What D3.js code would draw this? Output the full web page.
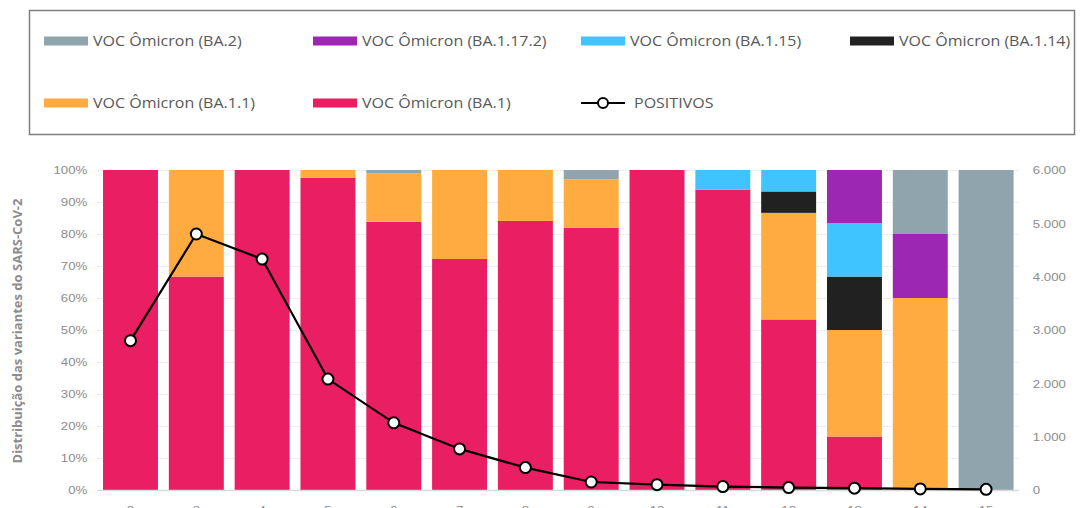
<!DOCTYPE html>
<html>
<head>
<meta charset="utf-8">
<script src="https://cdn.jsdelivr.net/npm/d3@7"></script>
<style>
  body { margin: 0; background: #fff; }
  svg { display: block; font-family: "Open Sans", sans-serif; }
</style>
</head>
<body>
<div id="chart"></div>
<script>
// data
var weeks = ["2", "3", "4", "5", "6", "7", "8", "9", "10", "11", "12", "13", "14", "15"];
var ba1     = [100, 66.7, 100, 97.6, 83.8, 72.2, 84.1, 81.9, 100, 93.8, 53.3, 16.7, 0, 0];
var ba11    = [0, 33.3, 0, 2.4, 15.2, 27.8, 15.9, 15.2, 0, 0, 33.3, 33.3, 60, 0];
var ba114   = [0, 0, 0, 0, 0, 0, 0, 0, 0, 0, 6.7, 16.7, 0, 0];
var ba115   = [0, 0, 0, 0, 0, 0, 0, 0, 0, 6.2, 6.7, 16.7, 0, 0];
var ba1172  = [0, 0, 0, 0, 0, 0, 0, 0, 0, 0, 0, 16.6, 20, 0];
var ba2     = [0, 0, 0, 0, 1.0, 0, 0, 2.9, 0, 0, 0, 0, 20, 100];
var positivos = [2800, 4800, 4330, 2080, 1260, 770, 420, 150, 100, 65, 45, 35, 20, 12];
var pctTicks = [0, 10, 20, 30, 40, 50, 60, 70, 80, 90, 100];
var posTicks = [0, 1000, 2000, 3000, 4000, 5000, 6000];

var series = [
  { key: "ba1", name: "VOC Ômicron (BA.1)", color: "#E91E63", values: ba1 },
  { key: "ba11", name: "VOC Ômicron (BA.1.1)", color: "#FFAB40", values: ba11 },
  { key: "ba114", name: "VOC Ômicron (BA.1.14)", color: "#212121", values: ba114 },
  { key: "ba115", name: "VOC Ômicron (BA.1.15)", color: "#40C4FF", values: ba115 },
  { key: "ba1172", name: "VOC Ômicron (BA.1.17.2)", color: "#9C27B0", values: ba1172 },
  { key: "ba2", name: "VOC Ômicron (BA.2)", color: "#90A4AE", values: ba2 }
];
var colorOf = {};
series.forEach(function(s) { colorOf[s.key] = s.color; });

var svgWidth = 1081;
var svgHeight = 508;

var plot = { left: 97.6, right: 1019, top: 170, bottom: 490 };

// the source texts look a bit wider than the fonts we have
var tickStretch = 1.15;
var legendStretch = 1.145;

var svg = d3.select("#chart")
  .append("svg")
  .attr("width", svgWidth)
  .attr("height", svgHeight);

// scales
var x = d3.scaleBand()
  .domain(weeks)
  .range([plot.left, plot.right])
  .paddingInner(0.165)
  .paddingOuter(0.0825);

var yPct = d3.scaleLinear().domain([0, 100]).range([plot.bottom, plot.top]);
var yPos = d3.scaleLinear().domain([0, 6000]).range([plot.bottom, plot.top]);

// gridlines
svg.append("g")
  .selectAll("line")
  .data(pctTicks.slice(1))
  .enter()
  .append("line")
  .attr("x1", plot.left)
  .attr("x2", plot.right)
  .attr("y1", d => yPct(d) + 0.5)
  .attr("y2", d => yPct(d) + 0.5)
  .attr("stroke", "#d0d0d0")
  .attr("stroke-width", 1)
  .attr("stroke-dasharray", "1,2");

// stacked bars
var rows = weeks.map(function(w, i) {
  var r = { week: w };
  series.forEach(function(s) { r[s.key] = s.values[i]; });
  return r;
});
var stack = d3.stack().keys(series.map(s => s.key));
var stacked = stack(rows);

svg.append("g")
  .selectAll("g")
  .data(stacked)
  .enter()
  .append("g")
  .attr("fill", d => colorOf[d.key])
  .selectAll("rect")
  .data(d => d.filter(p => p[1] - p[0] > 0))
  .enter()
  .append("rect")
  .attr("x", d => x(d.data.week))
  .attr("width", x.bandwidth())
  .attr("y", d => yPct(d[1]))
  .attr("height", d => yPct(d[0]) - yPct(d[1]));

// baseline
svg.append("line")
  .attr("x1", plot.left)
  .attr("x2", plot.right)
  .attr("y1", plot.bottom + 0.5)
  .attr("y2", plot.bottom + 0.5)
  .attr("stroke", "#d9d9d9")
  .attr("stroke-width", 1.5);

// left axis
var leftAxis = d3.axisLeft(yPct)
  .tickValues(pctTicks)
  .tickSize(0)
  .tickPadding(9)
  .tickFormat(d => d + "%");
var gl = svg.append("g")
  .attr("transform", `translate(${plot.left}, 0)`)
  .call(leftAxis);
gl.select(".domain").remove();
gl.selectAll("text")
  .attr("fill", "#8c8c8c")
  .attr("transform", `scale(${tickStretch},1)`)
  .style("font-size", "11.5px");

// right axis
var rightAxis = d3.axisRight(yPos)
  .tickValues(posTicks)
  .tickSize(0)
  .tickPadding(12)
  .tickFormat(d => d3.format(",")(d).replace(/,/g, "."));
var gr = svg.append("g")
  .attr("transform", `translate(${plot.right}, 0)`)
  .call(rightAxis);
gr.select(".domain").remove();
gr.selectAll("text")
  .attr("fill", "#8c8c8c")
  .attr("transform", `scale(${tickStretch},1)`)
  .style("font-size", "11.5px");

// bottom axis (labels cut off by the frame, as in the source)
var bottomAxis = d3.axisBottom(x).tickSize(0).tickPadding(16);
var gb = svg.append("g")
  .attr("transform", `translate(0, ${plot.bottom})`)
  .call(bottomAxis);
gb.select(".domain").remove();
gb.selectAll("text")
  .attr("fill", "#8c8c8c")
  .attr("transform", `scale(${tickStretch},1)`)
  .attr("x", 0)
  .style("font-size", "11.5px");

// y axis title
svg.append("text")
  .attr("transform", `translate(22, ${(plot.top + plot.bottom) / 2 + 1}) rotate(-90)`)
  .attr("text-anchor", "middle")
  .attr("fill", "#8c8c8c")
  .style("font-size", "13px")
  .style("font-weight", "bold")
  .text("Distribuição das variantes do SARS-CoV-2");

// positivos line
var line = d3.line()
  .x((d, i) => x(weeks[i]) + x.bandwidth() / 2)
  .y(d => yPos(d));

svg.append("path")
  .datum(positivos)
  .attr("d", line)
  .attr("fill", "none")
  .attr("stroke", "#000")
  .attr("stroke-width", 2.2);

svg.append("g")
  .selectAll("circle")
  .data(positivos)
  .enter()
  .append("circle")
  .attr("cx", (d, i) => x(weeks[i]) + x.bandwidth() / 2)
  .attr("cy", d => yPos(d))
  .attr("r", 5.5)
  .attr("fill", "#fff")
  .attr("stroke", "#000")
  .attr("stroke-width", 2);

// legend
svg.append("rect")
  .attr("x", 29.5)
  .attr("y", 10.5)
  .attr("width", 1045)
  .attr("height", 124)
  .attr("fill", "none")
  .attr("stroke", "#7f7f7f")
  .attr("stroke-width", 1.5);

var legendItems = [
  { name: "VOC Ômicron (BA.2)", key: "ba2", x: 44, y: 41 },
  { name: "VOC Ômicron (BA.1.17.2)", key: "ba1172", x: 313, y: 41 },
  { name: "VOC Ômicron (BA.1.15)", key: "ba115", x: 581, y: 41 },
  { name: "VOC Ômicron (BA.1.14)", key: "ba114", x: 850, y: 41 },
  { name: "VOC Ômicron (BA.1.1)", key: "ba11", x: 44, y: 103 },
  { name: "VOC Ômicron (BA.1)", key: "ba1", x: 313, y: 103 }
];

var lg = svg.append("g")
  .selectAll("g")
  .data(legendItems)
  .enter()
  .append("g")
  .attr("transform", d => `translate(${d.x}, ${d.y})`);

lg.append("rect")
  .attr("x", 0)
  .attr("y", -4.5)
  .attr("width", 44)
  .attr("height", 9)
  .attr("fill", d => colorOf[d.key]);

lg.append("text")
  .attr("transform", `translate(49, 0) scale(${legendStretch},1)`)
  .attr("dy", "0.35em")
  .attr("fill", "#595959")
  .style("font-size", "14px")
  .text(d => d.name);

var lp = svg.append("g").attr("transform", "translate(581, 103)");
lp.append("line")
  .attr("x1", 0).attr("x2", 44)
  .attr("y1", 0).attr("y2", 0)
  .attr("stroke", "#000")
  .attr("stroke-width", 2.2);
lp.append("circle")
  .attr("cx", 22).attr("cy", 0).attr("r", 5)
  .attr("fill", "#fff")
  .attr("stroke", "#000")
  .attr("stroke-width", 2);
lp.append("text")
  .attr("transform", `translate(53, 0) scale(${legendStretch},1)`)
  .attr("dy", "0.35em")
  .attr("fill", "#595959")
  .style("font-size", "14px")
  .text("POSITIVOS");
</script>
</body>
</html>
